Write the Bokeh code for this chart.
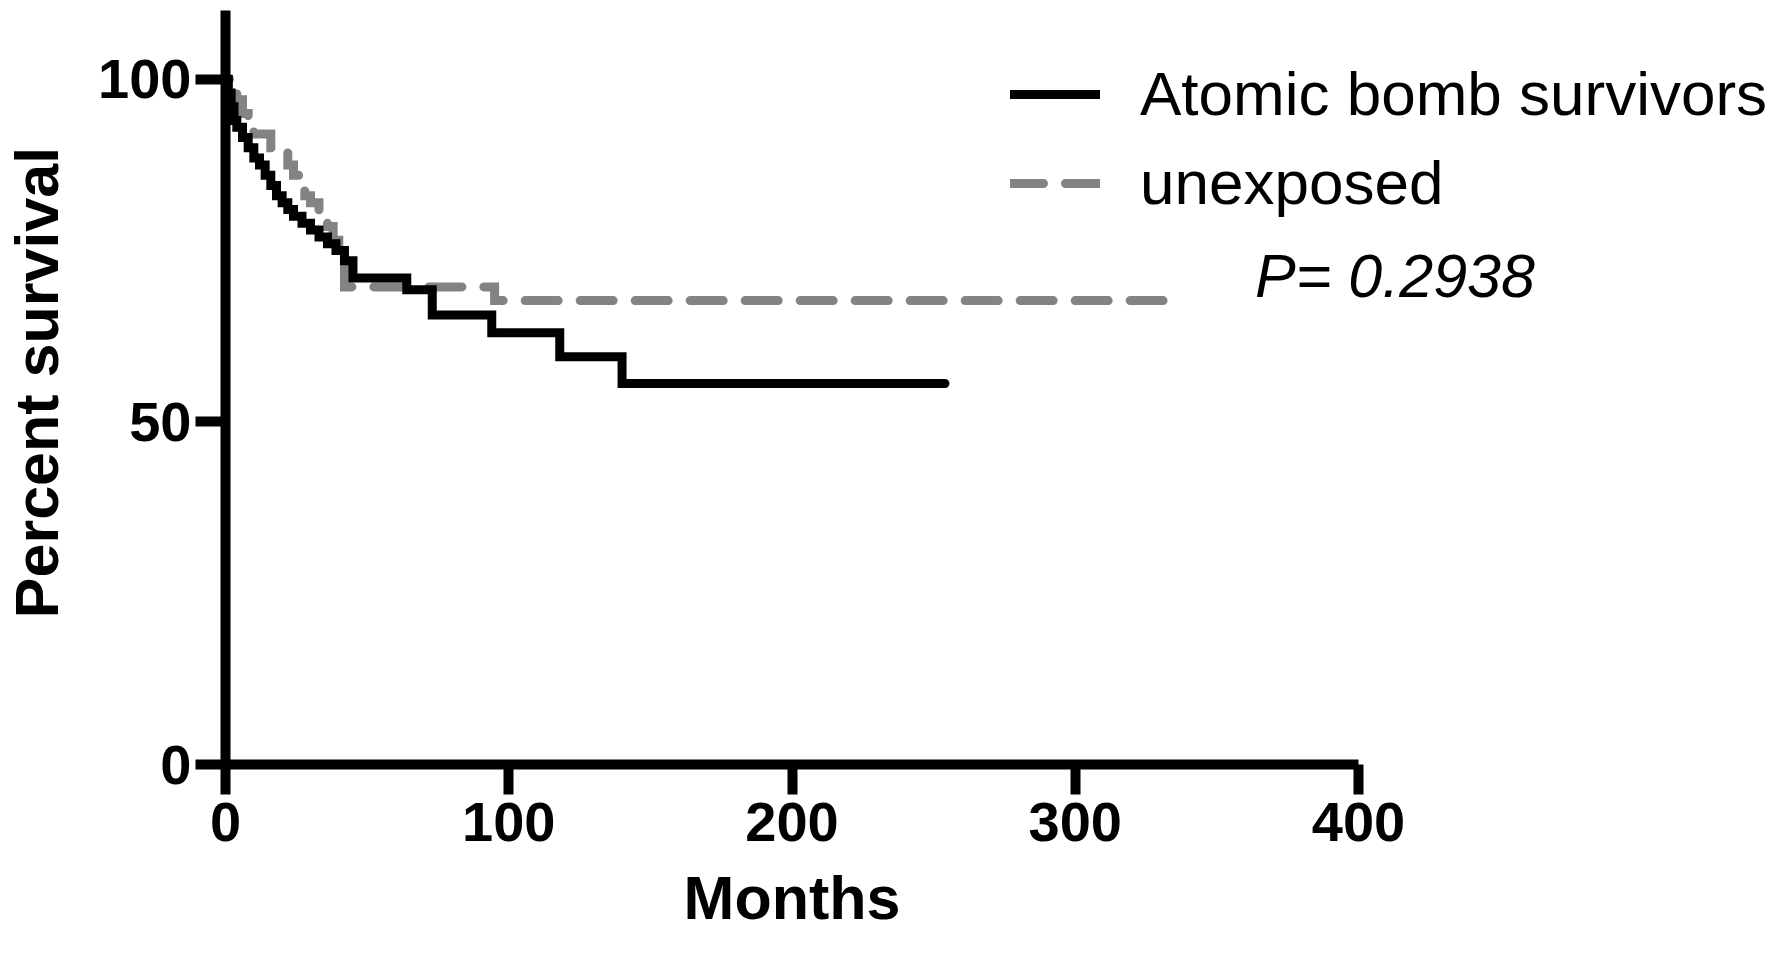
from bokeh.plotting import figure
from bokeh.models import Range1d, FixedTicker, Legend, LegendItem, Title
from bokeh.core.properties import value
from bokeh.embed import file_html
from bokeh.resources import INLINE

# Kaplan-Meier step data (months, percent survival after each event)
bomb_t = [0, 1, 2, 3, 4, 6, 8, 10, 12, 14, 16, 18, 20, 22, 24, 27, 30, 33, 36, 39, 42, 45, 64, 73, 94, 118, 140]
bomb_s = [100, 98, 96, 94, 93, 91.5, 90, 88.5, 87.5, 86, 84.5, 83, 82, 81, 80, 79, 78, 77, 76, 75, 73.5, 71, 69.3, 65.6, 63.0, 59.5, 55.6]
bomb_end = 254

unexp_t = [0, 2, 4, 6, 8, 10, 16, 22, 24, 26, 28, 30, 33, 36, 38, 40, 42, 95]
unexp_s = [100, 98.5, 97, 95, 93, 92, 90, 87.5, 86, 84.5, 83, 82, 80, 78.5, 76.5, 74, 69.7, 67.7]
unexp_end = 331

x_ticks = [0, 100, 200, 300, 400]
y_ticks = [0, 50, 100]
p_text = "P= 0.2938"


def steps(t, s, end):
    xs, ys = [], []
    for i in range(len(t)):
        if i > 0:
            xs.append(t[i]); ys.append(s[i - 1])
        xs.append(t[i]); ys.append(s[i])
    xs.append(end); ys.append(s[-1])
    return xs, ys


W, H = 1774, 953
left, bottom = 225, 187
PX_X, PX_Y = 2.8325, 6.87
p = figure(width=W, height=H, output_backend="svg", toolbar_location=None,
           x_range=Range1d(0, (W - left) / PX_X), y_range=Range1d(0, (H - bottom) / PX_Y),
           min_border_left=left, min_border_bottom=bottom, min_border_top=0, min_border_right=0)
p.outline_line_color = None
p.grid.visible = False
p.background_fill_color = "white"
p.border_fill_color = "white"

FONT = "Liberation Sans"
for ax, ticks, bnd in ((p.xaxis[0], x_ticks, (0, 400)), (p.yaxis[0], y_ticks, (0, 110))):
    ax.ticker = FixedTicker(ticks=ticks)
    ax.bounds = bnd
    ax.axis_line_width = 10
    ax.axis_line_color = "black"
    ax.major_tick_line_width = 10
    ax.major_tick_line_color = "black"
    ax.major_tick_out = 30
    ax.major_tick_in = 0
    ax.minor_tick_line_color = None
    ax.major_label_text_font = FONT
    ax.major_label_text_font_style = "bold"
    ax.major_label_text_font_size = "56px"
    ax.major_label_text_color = "black"
    ax.axis_label_text_font = FONT
    ax.axis_label_text_font_style = "bold"
    ax.axis_label_text_font_size = "61px"
    ax.axis_label_text_color = "black"

p.yaxis.axis_label = "Percent survival"
p.xaxis.major_label_standoff = 8
p.yaxis.major_label_standoff = 4
p.yaxis.axis_label_standoff = 24

# x-axis title centred under the 0-400 axis span (axis ends at 400, frame is wider)
months_w = 3.555 * 61
p.add_layout(Title(text="Months", align="left", offset=200 * PX_X - months_w / 2,
                   vertical_align="top", standoff=40, text_line_height=0.8,
                   text_font=FONT, text_font_style="bold",
                   text_font_size="61px", text_color="black"), "below")

ux, uy = steps(unexp_t, unexp_s, unexp_end)
bx, by = steps(bomb_t, bomb_s, bomb_end)

# dash phase so that the dashed curve finishes on a dash at its last point
L = sum(abs(ux[i + 1] - ux[i]) * PX_X + abs(uy[i + 1] - uy[i]) * PX_Y for i in range(len(ux) - 1))
dash_on, dash_off = 33, 22
dash_phase = int(round((dash_on - L) % (dash_on + dash_off)))

GRAY = "#838383"
r_u = p.line(ux, uy, line_color=GRAY, line_width=9, line_dash="33 22",
             line_dash_offset=dash_phase, line_cap="round", line_join="miter")
r_b = p.line(bx, by, line_color="black", line_width=9, line_cap="round", line_join="miter")
# style-only renderer (NaN data, draws nothing) so the legend swatch starts on a full dash
nan = float("nan")
r_u_key = p.line([nan, nan], [nan, nan], line_color=GRAY, line_width=9, line_dash="33 22",
                 line_cap="round")

legend = Legend(items=[LegendItem(label="Atomic bomb survivors", renderers=[r_b]),
                       LegendItem(label="unexposed", renderers=[r_u_key])],
                location=(785, 546), orientation="vertical",
                glyph_width=90, glyph_height=50, label_standoff=40, spacing=18,
                padding=0, margin=0, border_line_color=None, background_fill_alpha=0,
                label_text_font=FONT, label_text_font_size="62px", label_text_color="black")
p.add_layout(legend)

p.text(x=[363.5], y=[71.3], text=[p_text], text_font=value(FONT), text_font_style="italic",
       text_font_size="61px", text_color="black", text_baseline="alphabetic")

open("out.html", "w").write(file_html(p, INLINE))
